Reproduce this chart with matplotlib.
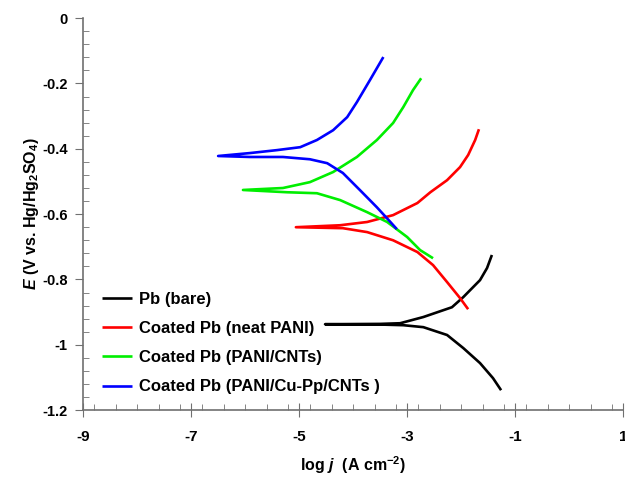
import numpy as np
import matplotlib
matplotlib.use('Agg')
import matplotlib.pyplot as plt
from matplotlib.ticker import MultipleLocator

plt.rcParams['font.family'] = 'Liberation Sans'
plt.rcParams['font.weight'] = 'bold'
plt.rcParams['mathtext.fontset'] = 'custom'
plt.rcParams['mathtext.rm'] = 'Liberation Sans:bold'
plt.rcParams['mathtext.it'] = 'Liberation Sans:bold:italic'

# curves: lower branch (end -> tip), then upper branch (tip -> end)
bare_x = [-1.26, -1.41, -1.65, -1.96, -2.26, -2.70, -3.07, -3.50, -4.52,
          -3.50, -3.13, -2.70, -2.17, -1.96, -1.65, -1.52, -1.43]
bare_y = [-1.139, -1.102, -1.056, -1.010, -0.970, -0.946, -0.940, -0.938, -0.937,
          -0.936, -0.934, -0.915, -0.885, -0.854, -0.802, -0.765, -0.725]

pani_x = [-1.87, -2.02, -2.26, -2.52, -2.81, -3.26, -3.74, -4.19, -5.06,
          -4.24, -3.74, -3.26, -2.81, -2.57, -2.26, -2.02, -1.87, -1.74, -1.67]
pani_y = [-0.891, -0.857, -0.808, -0.756, -0.716, -0.680, -0.655, -0.643, -0.640,
          -0.634, -0.624, -0.603, -0.566, -0.533, -0.496, -0.456, -0.419, -0.373, -0.340]

cnt_x = [-2.52, -2.76, -3.00, -3.37, -3.74, -4.24, -4.67, -5.22, -6.04,
         -5.30, -4.80, -4.37, -3.93, -3.56, -3.26, -3.07, -2.89, -2.74]
cnt_y = [-0.735, -0.710, -0.670, -0.624, -0.594, -0.557, -0.536, -0.533, -0.526,
         -0.520, -0.502, -0.471, -0.425, -0.373, -0.321, -0.272, -0.220, -0.184]

cupp_x = [-3.19, -3.31, -3.56, -3.87, -4.19, -4.48, -4.80, -5.30, -5.91, -6.50,
          -5.91, -5.41, -4.98, -4.67, -4.37, -4.11, -3.93, -3.69, -3.44]
cupp_y = [-0.646, -0.624, -0.579, -0.527, -0.474, -0.444, -0.432, -0.425, -0.425, -0.422,
          -0.413, -0.404, -0.395, -0.373, -0.343, -0.303, -0.257, -0.190, -0.119]

labels = ['Pb (bare)', 'Coated Pb (neat PANI)', 'Coated Pb (PANI/CNTs)',
          'Coated Pb (PANI/Cu-Pp/CNTs )']
colors = ['black', '#ff0000', '#00ee00', '#0000ff']

fig = plt.figure(figsize=(6.25, 4.78), dpi=100)
ax = fig.add_axes([0.133, 0.142, 0.864, 0.820])

for xs, ys, lab, c in zip([bare_x, pani_x, cnt_x, cupp_x], [bare_y, pani_y, cnt_y, cupp_y],
                          labels, colors):
    ax.plot(xs, ys, color=c, lw=1.9, label=lab, solid_capstyle='butt')

ax.set_xlim(-9, 1)
ax.set_ylim(-1.2, 0)
ax.xaxis.set_minor_locator(MultipleLocator(0.4))
ax.yaxis.set_minor_locator(MultipleLocator(0.04))
ax.set_xticks(np.arange(-9, 1.5, 2))
ax.set_xticklabels(['-9', '-7', '-5', '-3', '-1', '1'])
ax.set_yticks(np.arange(-1.2, 0.01, 0.2))
ax.set_yticklabels(['-1.2', '-1', '-0.8', '-0.6', '-0.4', '-0.2', '0'])

for s in ['top', 'right']:
    ax.spines[s].set_visible(False)
for s in ['left', 'bottom']:
    ax.spines[s].set_color('#707070')
    ax.spines[s].set_linewidth(1.2)

ax.tick_params(axis='x', which='major', direction='inout', length=10, color='#707070',
               labelsize=11, pad=9)
ax.tick_params(axis='y', which='major', direction='out', length=6, color='#707070',
               labelsize=10.5, pad=5)
ax.tick_params(which='minor', direction='in', length=4, color='#707070')

ax.set_xlabel(r'log $\mathit{j}$  (A cm$^{\mathrm{-2}}$)', fontsize=11.5, fontweight='bold',
              labelpad=8)
ax.set_ylabel(r'$\mathit{E}$ (V vs. Hg/Hg$_{\mathrm{2}}$SO$_{\mathrm{4}}$)', fontsize=11.5,
              fontweight='bold', labelpad=1)

ax.legend(loc='upper left', bbox_to_anchor=(0.008, 0.34), frameon=False, fontsize=12,
          handlelength=1.8, handletextpad=0.4, labelspacing=0.85)

fig.savefig('out.png', dpi=100)
